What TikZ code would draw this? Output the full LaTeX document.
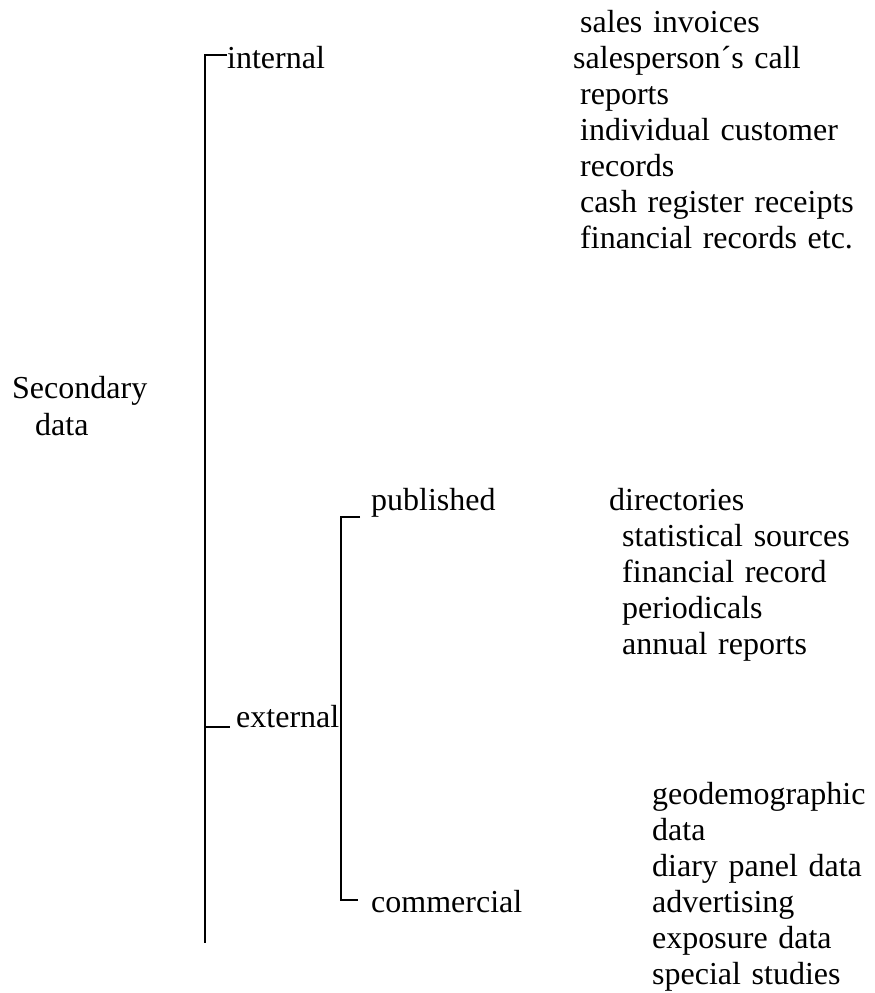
\documentclass[tikz,border=0pt]{standalone}
\usepackage{fontspec}
\setmainfont{Liberation Serif}
\usepackage{tikz}
\usetikzlibrary{positioning}

\begin{document}
\begin{tikzpicture}[
x = 1pt, y = 1pt, % one unit is one pixel of the scan
node distance = 36pt, % line pitch of the lists
font = \fontsize{32}{37}\selectfont,
inner sep = 0pt
]
\tikzstyle{lbl}=[
anchor = base west,
text height = 23pt,
text depth = 8pt
]
\tikzstyle{item}=[
lbl,
text width = 290pt,
align = left
]
\tikzstyle{trunk}=[line width = 2pt]
\tikzstyle{twig}=[line width = 1.6pt]
\useasboundingbox (0,0) rectangle (875,-993);

% the tree on the left
\node[align = left, anchor = north west] (sec) at (12,-376) {Secondary\\\hspace*{23pt}data};
\node[lbl] (int) at (227,-68) {internal};
\node[lbl] (ext) at (236,-727) {external};
\node[lbl] (pub) at (371,-510) {published};
\node[lbl] (com) at (371,-912) {commercial};

% internal sources
\node[item] (si) at (580,-32) {sales invoices};
\node[item, below of = si, xshift = -7pt] (spc) {salesperson´s call};
\node[item, below of = spc, xshift = 7pt] (rep) {reports};
\node[item, below of = rep] (icr) {individual customer};
\node[item, below of = icr] (rec) {records};
\node[item, below of = rec] (crr) {cash register receipts};
\node[item, below of = crr] (fin) {financial records etc.};

% published sources
\node[item] (dir) at (609,-510) {directories};
\node[item, below of = dir, xshift = 13pt] (sts) {statistical sources};
\node[item, below of = sts] (frc) {financial record};
\node[item, below of = frc] (per) {periodicals};
\node[item, below of = per] (anr) {annual reports};

% commercial sources
\node[item] (geo) at (652,-804) {geodemographic};
\node[item, below of = geo] (gdd) {data};
\node[item, below of = gdd] (dpd) {diary panel data};
\node[item, below of = dpd] (adv) {advertising};
\node[item, below of = adv] (exd) {exposure data};
\node[item, below of = exd] (sps) {special studies};

% brackets
\coordinate (top) at (205,-55);
\coordinate (bot) at (205,-943);
\coordinate (etop) at (341,-517);
\coordinate (ebot) at (341,-900);
\draw[trunk] (int.west |- top) -- (top) -- (bot);
\draw[trunk] (ext.base west -| top) -- ([xshift=-6pt]ext.base west);
\draw[twig] ([xshift=-11pt]pub.west |- etop) -- (etop) -- (ebot) -- ([xshift=-13pt]com.west |- ebot);
\end{tikzpicture}
\end{document}
